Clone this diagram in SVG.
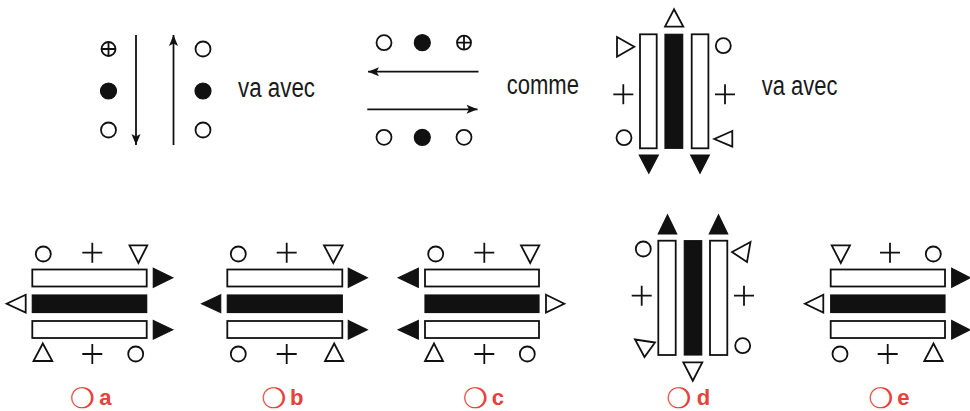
<svg xmlns="http://www.w3.org/2000/svg" width="970" height="411" viewBox="0 0 970 411">
<defs>
<marker id="ah" viewBox="-1 -6 14 12" markerWidth="14" markerHeight="12" refX="11" refY="0" orient="auto" markerUnits="userSpaceOnUse">
<path d="M0,-4.5 L11,0 L0,4.5 L2.5,0 Z" fill="#111"/>
</marker>
</defs>
<style>
.o{fill:#fff;stroke:#111;stroke-width:1.8}
.f{fill:#111;stroke:#111;stroke-width:1.2}
.ln{fill:none;stroke:#111;stroke-width:1.8}
.bar{fill:#fff;stroke:#111;stroke-width:1.8}
.blk{fill:#111;stroke:#111;stroke-width:1.2}
.t{font-family:"Liberation Sans",Arial,sans-serif;font-size:27px;fill:#1a1a1a}
.lb{font-family:"Liberation Sans",Arial,sans-serif;font-size:22px;font-weight:bold;fill:#e8403a}
.sy{font-family:"DejaVu Sans",sans-serif;font-size:28px;fill:#e8403a}
</style>
<rect width="970" height="411" fill="#fff"/>

<g id="connectors">
<line class="ln" x1="136" y1="35" x2="136" y2="145" marker-end="url(#ah)"/>
<line class="ln" x1="173.5" y1="145" x2="173.5" y2="35" marker-end="url(#ah)"/>
<line class="ln" x1="478.5" y1="71.7" x2="368" y2="71.7" marker-end="url(#ah)"/>
<line class="ln" x1="367.3" y1="109.3" x2="477.5" y2="109.3" marker-end="url(#ah)"/>
</g>

<g id="fig-top-left">
<circle class="o" cx="108.5" cy="49" r="7"/>
<path class="ln" d="M101.5,49 H115.5 M108.5,42 V56" stroke-width="1.2"/>
<circle class="f" cx="108.5" cy="91" r="8"/>
<circle class="o" cx="108.5" cy="130" r="7.5"/>
<circle class="o" cx="203" cy="49" r="7.5"/>
<circle class="f" cx="203" cy="91" r="8"/>
<circle class="o" cx="203" cy="130" r="7.5"/>
<text class="t" x="238" y="97" textLength="77" lengthAdjust="spacingAndGlyphs">va avec</text>
</g>

<g id="fig-top-middle">
<circle class="o" cx="384" cy="42.7" r="7.5"/>
<circle class="f" cx="422.3" cy="42.7" r="8"/>
<circle class="o" cx="464" cy="42.7" r="7"/>
<path class="ln" d="M457,42.7 H471 M464,35.7 V49.7" stroke-width="1.2"/>
<circle class="o" cx="384" cy="137.3" r="7.5"/>
<circle class="f" cx="422.3" cy="137.3" r="8"/>
<circle class="o" cx="464" cy="137.3" r="7.5"/>
<text class="t" x="506.7" y="94" textLength="72.3" lengthAdjust="spacingAndGlyphs">comme</text>
</g>

<g id="fig-top-right">
<rect class="bar" x="640" y="34.3" width="16.7" height="114"/>
<rect class="blk" x="665" y="34.3" width="17.7" height="114"/>
<rect class="bar" x="691.7" y="34.3" width="16.7" height="114"/>
<polygon class="o" points="674,9.3 665,26.7 683.3,26.7"/>
<polygon class="f" points="639.3,155 658.3,155 648.8,173.3"/>
<polygon class="f" points="690.7,155 709.3,155 700,173.3"/>
<polygon class="o" points="617,37 634.3,46.7 617,56.7"/>
<path class="ln" d="M613.3,94.3 H633.3 M623.3,84.3 V104.3"/>
<circle class="o" cx="624" cy="137.7" r="7.5"/>
<circle class="o" cx="723.3" cy="45.7" r="7.5"/>
<path class="ln" d="M715,94.3 H735 M725,84.3 V104.3"/>
<polygon class="o" points="732.3,131 714.3,139 732.3,146.7"/>
<text class="t" x="761.7" y="95" textLength="75.7" lengthAdjust="spacingAndGlyphs">va avec</text>
</g>

<g id="option-a">
<rect class="bar" x="32.3" y="269.5" width="114.4" height="17"/>
<rect class="blk" x="32.3" y="295" width="114.4" height="17.5"/>
<rect class="bar" x="32.3" y="321" width="114.4" height="17"/>
<polygon class="f" points="153.3,268.3 172.7,277.8 153.3,287.3"/>
<polygon class="f" points="153.3,320.5 172.7,329.8 153.3,339"/>
<polygon class="o" points="25.7,294.8 6.7,303.7 25.7,312.5"/>
<circle class="o" cx="43.3" cy="254" r="7.5"/>
<path class="ln" d="M82.3,252.7 H102.3 M92.3,242.7 V262.7"/>
<polygon class="o" points="129.5,245.3 147.3,245.3 138.4,263"/>
<polygon class="o" points="42.8,343.5 33.5,361 52.3,361"/>
<path class="ln" d="M82.3,354 H102.3 M92.3,344 V364"/>
<circle class="o" cx="135.7" cy="354" r="7.5"/>
<text class="sy" x="70" y="408">❍</text>
<text class="lb" x="99.3" y="405">a</text>
</g>

<g id="option-b">
<rect class="bar" x="227.3" y="269.5" width="115" height="17"/>
<rect class="blk" x="227.3" y="295" width="115" height="17.5"/>
<rect class="bar" x="227.3" y="321" width="115" height="17"/>
<polygon class="f" points="348.3,268.3 367.3,277.8 348.3,287.3"/>
<polygon class="f" points="348.3,320.5 367.3,329.8 348.3,339"/>
<polygon class="f" points="220.7,294.8 201.7,303.7 220.7,312.5"/>
<circle class="o" cx="238.3" cy="254" r="7.5"/>
<path class="ln" d="M276.7,252.7 H296.7 M286.7,242.7 V262.7"/>
<polygon class="o" points="324,245.3 342.7,245.3 333.3,263"/>
<circle class="o" cx="238.3" cy="354" r="7.5"/>
<path class="ln" d="M276.7,354 H296.7 M286.7,344 V364"/>
<polygon class="o" points="334.2,343.5 325,361 343.3,361"/>
<text class="sy" x="261.5" y="408">❍</text>
<text class="lb" x="290" y="405">b</text>
</g>

<g id="option-c">
<rect class="bar" x="425" y="269.5" width="114" height="17"/>
<rect class="blk" x="425" y="295" width="114" height="17.5"/>
<rect class="bar" x="425" y="321" width="114" height="17"/>
<polygon class="f" points="418.3,268.3 398.3,277.8 418.3,287.3"/>
<polygon class="f" points="418.3,320.5 398.3,329.8 418.3,339"/>
<polygon class="o" points="546,294.8 564.3,303.7 546,312.5"/>
<circle class="o" cx="435.7" cy="254" r="7.5"/>
<path class="ln" d="M474.3,252.7 H494.3 M484.3,242.7 V262.7"/>
<polygon class="o" points="521,245.3 539.3,245.3 530.2,263"/>
<polygon class="o" points="434,343.5 425,361 443,361"/>
<path class="ln" d="M474.3,354 H494.3 M484.3,344 V364"/>
<circle class="o" cx="527.3" cy="354" r="7.5"/>
<text class="sy" x="463" y="408">❍</text>
<text class="lb" x="491.7" y="405">c</text>
</g>

<g id="option-d">
<rect class="bar" x="658.3" y="240.7" width="17.4" height="114.3"/>
<rect class="blk" x="684.3" y="240.7" width="17.4" height="114.3"/>
<rect class="bar" x="710" y="240.7" width="17.3" height="114.3"/>
<polygon class="f" points="658.3,234 676.7,234 667.5,215"/>
<polygon class="f" points="709.3,234 727.7,234 718.5,215"/>
<polygon class="o" points="683.3,362.3 702.3,362.3 692.8,380.7"/>
<circle class="o" cx="643.3" cy="249" r="7.5"/>
<path class="ln" d="M631.7,295.7 H651.7 M641.7,285.7 V305.7"/>
<polygon class="o" points="635,339.5 655,342.5 644.5,357"/>
<polygon class="o" points="750.5,242 732,252 747,262"/>
<path class="ln" d="M734,295.7 H754 M744,285.7 V305.7"/>
<circle class="o" cx="742.7" cy="345.7" r="7.5"/>
<text class="sy" x="666.5" y="408">❍</text>
<text class="lb" x="696.7" y="405">d</text>
</g>

<g id="option-e">
<rect class="bar" x="830.7" y="269.5" width="114.3" height="17"/>
<rect class="blk" x="830.7" y="295" width="114.3" height="17.5"/>
<rect class="bar" x="830.7" y="321" width="114.3" height="17"/>
<polygon class="f" points="951.7,268.3 970,277.8 951.7,287.3"/>
<polygon class="f" points="951.7,320.5 970,329.8 951.7,339"/>
<polygon class="o" points="823.3,294.8 805,303.7 823.3,312.5"/>
<polygon class="o" points="831.7,245.3 850,245.3 840.8,263"/>
<path class="ln" d="M880,252.7 H900 M890,242.7 V262.7"/>
<circle class="o" cx="933.3" cy="254" r="7.5"/>
<circle class="o" cx="840" cy="354" r="7.5"/>
<path class="ln" d="M877.7,354 H897.7 M887.7,344 V364"/>
<polygon class="o" points="933.5,343.5 924.3,361 942.7,361"/>
<text class="sy" x="868.5" y="408">❍</text>
<text class="lb" x="897.3" y="405">e</text>
</g>
</svg>
